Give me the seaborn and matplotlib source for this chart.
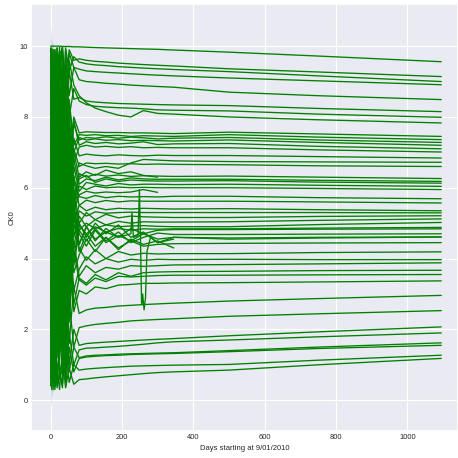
import numpy as np
import pandas as pd
import seaborn as sns
import matplotlib.pyplot as plt

nan = np.nan

# sample days shared by most traces
days = [0, 3, 7, 12, 18, 25, 33, 42, 52, 65, 80, 100, 125, 155, 190, 225, 260, 300, 345, 500, 750, 1095]

upper_lines = [
    [10.0, 10.0, 10.0, 10.0, 10.0, 10.0, 9.99, 9.99, 9.99, 9.98, 9.98, 9.97, 9.96, 9.95, 9.94, 9.93, 9.92, 9.91, 9.89, 9.83, 9.72, 9.56],
    [9.6, 8.2, 9.9, 7.5, 9.95, 9.4, 9.98, 8.6, 9.9, 9.6, 9.64, 9.6, 9.57, 9.55, 9.52, 9.5, 9.48, 9.46, 9.44, 9.36, 9.27, 9.14],
    [5.0, 9.8, 6.5, 9.9, 8.8, 9.97, 7.8, 9.95, 9.3, 9.7, 9.55, 9.5, 9.47, 9.45, 9.42, 9.4, 9.38, 9.36, 9.34, 9.28, 9.16, 9.00],
    [9.9, 7.0, 9.5, 8.0, 9.95, 9.2, 9.96, 8.2, 9.8, 9.4, 9.35, 9.3, 9.28, 9.26, 9.24, 9.22, 9.2, 9.18, 9.16, 9.10, 9.02, 8.91],
    [3.0, 9.0, 9.9, 6.0, 9.5, 8.4, 7.2, 9.9, 8.6, 9.4, 9.05, 9.0, 8.98, 8.95, 8.93, 8.9, 8.88, 8.86, 8.84, 8.70, 8.60, 8.49],
    [8.5, 9.9, 5.5, 9.6, 7.2, 9.8, 9.9, 7.0, 9.3, 8.5, 8.55, 8.45, 8.42, 8.4, 8.38, 8.37, 8.36, 8.35, 8.34, 8.32, 8.24, 8.15],
    [9.95, 6.0, 9.7, 8.5, 9.85, 7.5, 6.5, 9.7, 8.0, 8.8, 8.45, 8.35, 8.3, 8.28, 8.26, 8.25, 8.23, 8.2, 8.19, 8.17, 8.08, 7.99],
    [9.0, 9.95, 7.8, 9.9, 9.2, 9.6, 9.95, 8.1, 9.6, 8.9, 8.6, 8.4, 8.25, 8.15, 8.05, 8.0, 8.18, 8.1, 8.08, 8.0, 7.92, 7.83],
]

seven_lines = [
    [2.0, 8.5, 4.0, 9.0, 6.0, 8.2, 4.5, 9.5, 6.8, 8.0, 7.55, 7.58, 7.57, 7.56, 7.56, 7.55, 7.55, 7.54, 7.53, 7.57, 7.52, 7.45],
    [6.5, 3.0, 8.8, 5.0, 9.2, 6.5, 9.6, 5.0, 8.5, 7.2, 7.5, 7.48, 7.5, 7.47, 7.48, 7.45, 7.47, 7.46, 7.45, 7.5, 7.43, 7.36],
    [9.5, 5.5, 7.5, 3.5, 8.0, 9.3, 5.2, 9.0, 6.5, 7.8, 7.35, 7.42, 7.4, 7.44, 7.4, 7.43, 7.41, 7.38, 7.4, 7.42, 7.35, 7.28],
    [4.5, 9.6, 2.5, 8.7, 4.8, 7.9, 9.8, 4.2, 8.4, 7.0, 7.42, 7.35, 7.38, 7.34, 7.36, 7.33, 7.34, 7.33, 7.32, 7.35, 7.28, 7.20],
    [7.2, 1.5, 9.4, 6.0, 3.5, 8.6, 3.8, 9.4, 6.2, 7.9, 7.2, 7.3, 7.25, 7.28, 7.24, 7.26, 7.3, 7.22, 7.24, 7.25, 7.17, 7.10],
    [3.5, 7.5, 9.8, 4.0, 8.0, 5.5, 9.2, 4.8, 8.0, 6.7, 7.15, 7.2, 7.15, 7.17, 7.14, 7.16, 7.13, 7.14, 7.13, 7.13, 7.07, 7.01],
    [8.0, 4.0, 6.5, 9.5, 5.0, 7.5, 3.5, 8.8, 5.8, 7.4, 6.9, 6.95, 6.92, 6.9, 6.93, 6.91, 6.9, 6.92, 6.91, 6.91, 6.88, 6.84],
    [1.0, 6.0, 8.5, 3.0, 9.0, 5.8, 9.0, 3.8, 7.8, 6.2, 6.7, 6.62, 6.55, 6.6, 6.55, 6.7, 6.8, 6.78, 6.76, 6.74, 6.73, 6.72],
    [5.5, 9.0, 3.8, 7.6, 6.1, 8.8, 4.0, 8.5, 5.6, 7.1, 6.6, 6.7, 6.68, 6.69, 6.67, 6.68, 6.66, 6.67, 6.66, 6.65, 6.62, 6.60],
]

six_lines = [
    [9.0, 2.5, 7.0, 5.2, 8.5, 4.5, 9.4, 3.6, 7.8, 5.7, 6.4, 6.3, 6.38, 6.33, 6.36, 6.32, 6.34, 6.33, 6.32, 6.33, 6.3, 6.26],
    [2.8, 6.5, 4.5, 9.3, 3.8, 7.2, 3.2, 8.8, 5.0, 6.8, 6.1, 6.25, 6.2, 6.3, 6.22, 6.28, 6.25, 6.24, 6.24, 6.24, 6.21, 6.18],
    [6.0, 8.5, 1.8, 7.0, 5.5, 3.5, 8.6, 3.0, 7.4, 5.6, 6.25, 6.35, 6.15, 6.25, 6.18, 6.22, 6.2, 6.19, 6.19, 6.2, 6.16, 6.13],
    [8.8, 3.5, 6.0, 8.0, 2.0, 6.6, 2.6, 8.2, 4.8, 6.6, 5.9, 6.15, 6.1, 6.05, 6.12, 6.08, 6.1, 6.1, 6.09, 6.1, 6.07, 6.04],
    [1.5, 5.0, 8.0, 2.5, 7.0, 4.0, 8.2, 2.8, 7.2, 5.4, 6.05, 5.95, 6.05, 6.0, 6.02, 6.0, 6.01, 6.0, 6.0, 6.0, 5.98, 5.95],
    [7.5, 4.8, 9.1, 5.8, 6.9, 3.0, 3.0, 9.2, 5.2, 7.0, 6.3, 6.45, 6.35, 6.5, 6.4, 6.45, 6.35, 6.3, nan, nan, nan, nan],
    [5.2, 7.8, 3.6, 8.4, 4.6, 6.9, 7.9, 3.4, 6.8, 5.3, 5.8, 5.9, 5.85, 5.88, 5.86, 5.88, 5.95, 5.87, nan, nan, nan, nan],
    [4.2, 9.2, 5.5, 3.2, 8.2, 5.0, 2.4, 7.8, 4.4, 6.3, 5.75, 5.7, 5.78, 5.72, 5.76, 5.74, 5.75, 5.74, 5.76, 5.76, 5.72, 5.69],
    [9.7, 4.0, 7.8, 2.8, 6.5, 7.5, 8.4, 3.2, 6.9, 5.0, 5.5, 5.65, 5.58, 5.64, 5.6, 5.63, 5.62, 5.62, 5.62, 5.62, 5.6, 5.57],
]

five_lines = [
    [5.0, 8.0, 3.0, 6.8, 4.2, 7.3, 2.8, 8.0, 4.2, 6.2, 5.5, 5.35, 5.45, 5.38, 5.42, 5.4, 5.42, 5.41, 5.4, 5.41, 5.38, 5.35],
    [2.2, 6.0, 9.5, 4.0, 5.6, 3.2, 8.6, 2.6, 6.6, 4.6, 5.35, 5.2, 5.32, 5.28, 5.3, 5.31, 5.3, 5.3, 5.3, 5.3, 5.3, 5.29],
    [7.8, 2.0, 5.5, 7.5, 3.0, 5.8, 2.2, 7.6, 4.0, 6.0, 5.0, 5.3, 5.1, 5.25, 5.15, 5.2, 5.18, 5.17, 5.16, 5.16, 5.19, 5.21],
    [0.8, 4.5, 7.0, 3.5, 6.2, 2.6, 7.8, 2.0, 6.4, 4.3, 5.2, 4.9, 5.1, 4.95, 5.05, 5.0, 5.04, 5.03, 5.03, 5.04, 5.08, 5.12],
    [6.8, 3.2, 8.9, 5.0, 2.8, 6.0, 1.8, 7.2, 3.8, 5.8, 4.8, 5.0, 4.85, 4.95, 4.9, 4.92, 4.93, 4.91, 4.9, 4.9, 4.96, 5.02],
    [3.8, 7.2, 2.0, 5.8, 7.8, 3.8, 7.4, 2.4, 6.0, 4.0, 4.95, 4.7, 4.9, 4.75, 4.85, 4.8, 4.84, 4.83, 4.84, 4.84, 4.86, 4.88],
    [8.2, 4.8, 1.2, 6.5, 4.0, 6.8, 1.6, 6.8, 3.5, 5.6, 4.4, 4.9, 4.55, 4.75, 4.6, 4.85, 4.7, 4.8, 4.82, 4.82, 4.83, 4.84],
    [4.6, 9.4, 3.6, 2.2, 6.6, 4.4, 7.0, 1.8, 5.8, 3.8, 4.8, 4.5, 4.85, 4.5, 4.75, 4.45, 4.6, 4.72, 4.68, 4.68, 4.69, 4.70],
    [1.8, 5.5, 3.0, 8.2, 4.9, 2.2, 2.0, 6.5, 3.4, 5.4, 4.7, 4.35, 4.8, 4.45, 4.65, 4.5, 4.7, 4.55, 4.6, 4.58, 4.6, 4.61],
    [5.8, 2.8, 6.3, 4.2, 1.5, 5.5, 6.6, 1.5, 5.4, 3.6, 4.1, 4.55, 4.2, 4.6, 4.3, 4.5, 4.35, 4.4, 4.42, 4.43, 4.44, 4.45],
    [9.2, 6.0, 4.2, 7.0, 3.2, 5.0, 1.4, 6.2, 3.0, 5.3, 4.2, 4.7, 4.35, 4.6, 4.25, 4.55, 4.4, 4.5, 4.3, nan, nan, nan],
    [3.2, 8.6, 5.0, 1.8, 5.8, 3.9, 6.9, 2.2, 5.9, 3.9, 5.0, 4.6, 5.0, 4.7, 4.95, 4.6, 4.75, 4.45, 4.55, nan, nan, nan],
]

four_lines = [
    [7.0, 3.0, 5.5, 1.6, 6.8, 3.3, 1.2, 6.4, 2.8, 5.0, 4.3, 3.95, 4.25, 4.0, 4.2, 4.1, 4.15, 4.13, 4.14, 4.14, 4.17, 4.19],
    [2.6, 7.6, 1.4, 5.4, 3.0, 6.2, 6.0, 1.3, 5.0, 3.1, 3.7, 4.05, 3.85, 4.0, 3.9, 3.98, 3.95, 3.98, 3.97, 3.98, 3.97, 3.97],
    [9.8, 4.6, 2.4, 6.0, 2.2, 4.8, 1.0, 5.6, 2.4, 4.5, 3.5, 3.8, 3.6, 3.75, 3.7, 3.8, 3.78, 3.8, 3.82, 3.83, 3.85, 3.88],
    [0.6, 3.8, 6.8, 2.0, 4.6, 2.5, 5.6, 1.0, 4.6, 2.7, 3.45, 3.3, 3.55, 3.4, 3.6, 3.5, 3.6, 3.62, 3.63, 3.64, 3.66, 3.67],
    [4.0, 1.2, 5.2, 2.6, 5.0, 1.8, 0.8, 5.2, 2.2, 4.2, 3.4, 3.25, 3.45, 3.35, 3.5, 3.48, 3.5, 3.52, 3.53, 3.53, 3.54, 3.55],
    [6.2, 2.2, 4.4, 0.9, 3.6, 2.0, 5.0, 0.9, 4.2, 2.5, 3.1, 3.0, 3.2, 3.15, 3.25, 3.27, 3.3, 3.3, 3.31, 3.32, 3.34, 3.37],
]

low_lines = [
    [3.4, 0.7, 4.8, 1.4, 3.2, 1.0, 0.7, 4.4, 1.6, 3.2, 2.45, 2.55, 2.6, 2.62, 2.66, 2.68, 2.7, 2.72, 2.74, 2.8, 2.87, 2.96],
    [1.6, 4.2, 0.8, 3.0, 1.2, 2.6, 3.8, 0.6, 2.8, 1.5, 2.05, 2.1, 2.14, 2.17, 2.2, 2.24, 2.26, 2.28, 2.3, 2.37, 2.44, 2.53],
    [2.4, 0.5, 3.6, 1.0, 2.2, 0.6, 0.5, 3.2, 1.0, 2.0, 1.55, 1.6, 1.62, 1.64, 1.66, 1.68, 1.7, 1.72, 1.74, 1.82, 1.93, 2.07],
    [0.9, 2.8, 0.5, 2.0, 0.7, 1.6, 2.8, 0.5, 1.9, 1.0, 1.42, 1.47, 1.48, 1.5, 1.52, 1.55, 1.58, 1.62, 1.65, 1.70, 1.79, 1.90],
    [4.6, 1.0, 2.6, 0.4, 1.8, 0.8, 0.45, 2.4, 0.8, 1.5, 1.2, 1.25, 1.27, 1.28, 1.3, 1.31, 1.32, 1.33, 1.34, 1.40, 1.50, 1.62],
    [1.2, 3.4, 0.6, 2.4, 0.5, 1.4, 2.2, 0.4, 1.5, 0.8, 1.18, 1.22, 1.24, 1.26, 1.27, 1.29, 1.3, 1.31, 1.32, 1.37, 1.46, 1.55],
    [0.4, 1.6, 0.3, 1.1, 0.35, 0.8, 0.35, 1.6, 0.5, 1.0, 0.85, 0.88, 0.9, 0.92, 0.94, 0.96, 0.97, 0.98, 0.99, 1.01, 1.13, 1.27],
    [2.0, 0.3, 1.3, 0.3, 0.9, 0.3, 1.4, 0.35, 0.9, 0.45, 0.58, 0.6, 0.63, 0.66, 0.69, 0.72, 0.75, 0.78, 0.8, 0.85, 1.0, 1.18],
]

# the one trace with the spikes around day 250
spike_days = [0, 4, 9, 15, 22, 30, 40, 52, 65, 80, 100, 125, 155, 190, 225, 228, 232, 245, 249, 252, 255, 258, 262, 266, 270, 280, 300, 345, 500, 750, 1095]
spike_vals = [5.5, 2.0, 7.5, 3.8, 6.0, 1.5, 6.6, 3.2, 5.4, 4.4, 4.9, 4.5, 4.85, 4.6, 4.7, 5.3, 4.6, 4.65, 5.95, 4.5, 2.7, 3.0, 2.55, 2.9, 4.2, 4.6, 4.45, 4.6, 4.55, 4.58, 4.61]

# confidence band at the start
band_days = [0, 2, 5, 9]
top_band_lo = [9.4, 9.75, 9.92, 10.0]
top_band_hi = [10.6, 10.25, 10.08, 10.0]
low_band_lo = [-0.25, 0.05, 0.22, 0.3]
low_band_hi = [1.0, 0.7, 0.5, 0.35]

sns.set_theme(style="darkgrid")
plt.rcParams['font.family'] = ['Liberation Sans', 'DejaVu Sans']
plt.rcParams['grid.linewidth'] = 0.8

all_lines = upper_lines + seven_lines + six_lines + five_lines + four_lines + low_lines
rows = []
for i, vals in enumerate(all_lines):
    for d, v in zip(days, vals):
        rows.append((i, d, v))
for d, v in zip(spike_days, spike_vals):
    rows.append((len(all_lines), d, v))
df = pd.DataFrame(rows, columns=["line", "day", "ck0"])

fig = plt.figure(figsize=(4.58, 4.58), dpi=100)
ax = fig.add_axes([31 / 458, 27 / 458, 427 / 458, 427 / 458])

ax.fill_between(band_days, top_band_lo, top_band_hi, color="b", alpha=0.25, lw=0)
ax.fill_between(band_days, low_band_lo, low_band_hi, color="b", alpha=0.25, lw=0)

sns.lineplot(data=df, x="day", y="ck0", units="line", estimator=None,
             color="green", lw=0.95, ax=ax, legend=False)

ax.set_xlim(-55, 1142)
ax.set_ylim(-0.87, 11.19)
ax.set_xticks([0, 200, 400, 600, 800, 1000])
ax.set_yticks([0, 2, 4, 6, 8, 10])
ax.tick_params(labelsize=5.4, pad=2.2, length=0)
ax.set_xlabel("Days starting at 9/01/2010", fontsize=5.5, labelpad=2.5)
ax.set_ylabel("CK0", fontsize=5.5, labelpad=3)

fig.savefig("out.png", dpi=100)
